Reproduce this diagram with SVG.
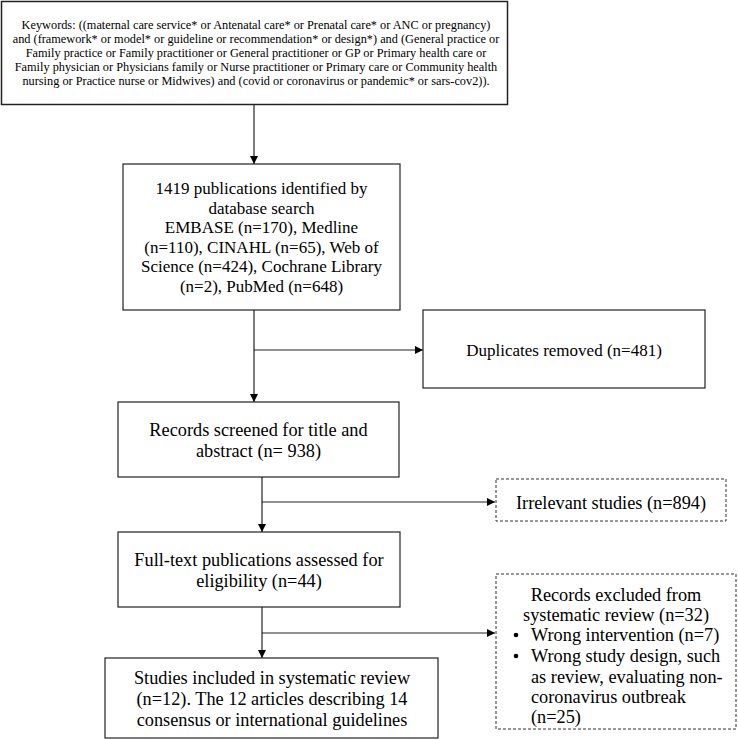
<svg xmlns="http://www.w3.org/2000/svg" width="738" height="740" viewBox="0 0 738 740">
<defs>
<style>
.box{fill:#fff;stroke:#222;stroke-width:1.2}
.dbox{fill:#fff;stroke:#333;stroke-width:1;stroke-dasharray:3,2}
.t{font-family:"Liberation Serif","Times New Roman",serif;fill:#000;text-anchor:middle}
.s{font-size:12.3px}
.m{font-size:17px}
.l{font-size:18.3px}
.ln{fill:none;stroke:#222;stroke-width:1.2}
</style>
<marker id="ah" viewBox="0 0 10 10" refX="10" refY="5" markerWidth="8" markerHeight="8" markerUnits="userSpaceOnUse" orient="auto">
<path d="M0,0 L10,5 L0,10 z" fill="#000"/>
</marker>
</defs>
<rect width="738" height="740" fill="#fff"/>
<g id="connectors">
<line class="ln" x1="254" y1="105" x2="254" y2="164" marker-end="url(#ah)"/>
<line class="ln" x1="254" y1="310" x2="254" y2="402" marker-end="url(#ah)"/>
<line class="ln" x1="254" y1="350" x2="423" y2="350" marker-end="url(#ah)"/>
<line class="ln" x1="262" y1="477" x2="262" y2="532" marker-end="url(#ah)"/>
<line class="ln" x1="262" y1="502" x2="495" y2="502" marker-end="url(#ah)"/>
<line class="ln" x1="262" y1="607" x2="262" y2="658" marker-end="url(#ah)"/>
<line class="ln" x1="262" y1="633" x2="495" y2="633" marker-end="url(#ah)"/>
</g>
<g id="keywords">
<rect class="box" x="1.5" y="1.5" width="506" height="103" style="stroke-width:1.5"/>
<text class="t s" x="256" y="29">Keywords: ((maternal care service* or Antenatal care* or Prenatal care* or ANC or pregnancy)</text>
<text class="t s" x="256" y="43">and (framework* or model* or guideline or recommendation* or design*) and (General practice or</text>
<text class="t s" x="256" y="57">Family practice or Family practitioner or General practitioner or GP or Primary health care or</text>
<text class="t s" x="256" y="71">Family physician or Physicians family or Nurse practitioner or Primary care or Community health</text>
<text class="t s" x="256" y="85">nursing or Practice nurse or Midwives) and (covid or coronavirus or pandemic* or sars-cov2)).</text>
</g>
<g id="identified">
<rect class="box" x="123" y="164" width="277" height="146"/>
<text class="t m" x="261.5" y="194">1419 publications identified by</text>
<text class="t m" x="261.5" y="214">database search</text>
<text class="t m" x="261.5" y="233">EMBASE (n=170), Medline</text>
<text class="t m" x="261.5" y="253">(n=110), CINAHL (n=65), Web of</text>
<text class="t m" x="261.5" y="272">Science (n=424), Cochrane Library</text>
<text class="t m" x="261.5" y="292">(n=2), PubMed (n=648)</text>
</g>
<g id="duplicates">
<rect class="box" x="423" y="310" width="282" height="78"/>
<text class="t m" x="564" y="356">Duplicates removed (n=481)</text>
</g>
<g id="screened">
<rect class="box" x="118" y="402" width="281" height="75"/>
<text class="t l" x="258.5" y="436">Records screened for title and</text>
<text class="t l" x="258.5" y="457">abstract (n= 938)</text>
</g>
<g id="irrelevant">
<rect class="dbox" x="496" y="479" width="230" height="42"/>
<text class="t l" x="611" y="508.5">Irrelevant studies (n=894)</text>
</g>
<g id="fulltext">
<rect class="box" x="118" y="532" width="282" height="75"/>
<text class="t l" x="259" y="565.5">Full-text publications assessed for</text>
<text class="t l" x="259" y="586.5">eligibility (n=44)</text>
</g>
<g id="excluded">
<rect class="dbox" x="496" y="574" width="240" height="155"/>
<text class="t l" x="616" y="600.5">Records excluded from</text>
<text class="t l" x="616" y="621">systematic review (n=32)</text>
<circle cx="516" cy="635" r="2.3" fill="#000"/>
<circle cx="516" cy="656" r="2.3" fill="#000"/>
<text class="t l" x="531" y="641" style="text-anchor:start">Wrong intervention (n=7)</text>
<text class="t l" x="531" y="662" style="text-anchor:start">Wrong study design, such</text>
<text class="t l" x="531" y="682.5" style="text-anchor:start">as review, evaluating non-</text>
<text class="t l" x="531" y="703" style="text-anchor:start">coronavirus outbreak</text>
<text class="t l" x="531" y="723" style="text-anchor:start">(n=25)</text>
</g>
<g id="included">
<rect class="box" x="105" y="658" width="333" height="80"/>
<text class="t l" x="272" y="683.5">Studies included in systematic review</text>
<text class="t l" x="272" y="704.5">(n=12). The 12 articles describing 14</text>
<text class="t l" x="272" y="725.5">consensus or international guidelines</text>
</g>
</svg>
